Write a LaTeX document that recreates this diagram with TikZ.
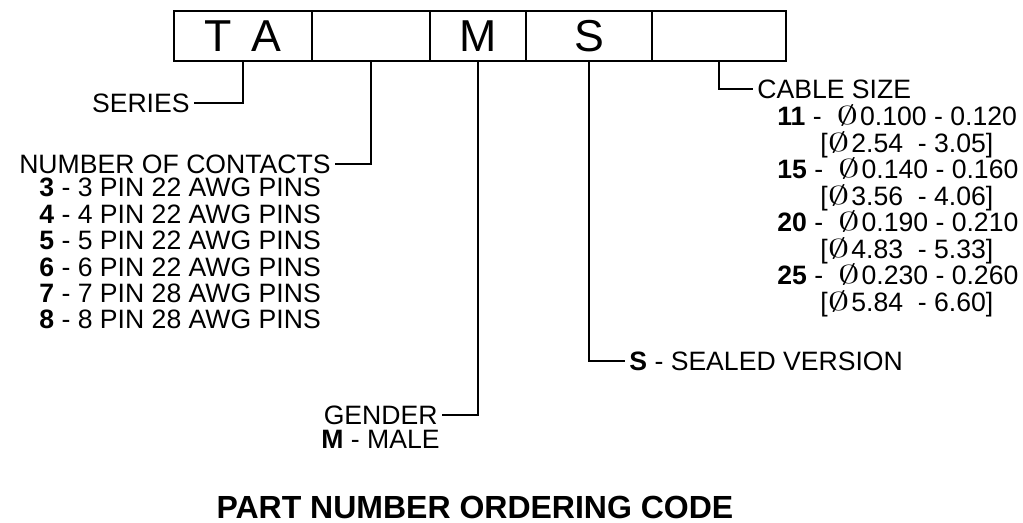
\documentclass[tikz,border=0pt]{standalone}
\usepackage{amsmath}
\usepackage{graphicx}
\usepackage{tikz}
\usepackage{fontspec}
\setmainfont{Liberation Sans}
\newcommand{\diasym}{\raisebox{0.5pt}{\scalebox{1.5}[0.9]{$\emptyset$}}\hspace{1pt}}

\begin{document}
\begin{tikzpicture}[x=0.5pt, y=-0.5pt,
    cell/.style={draw, line width=1pt, minimum height=25pt, inner sep=0pt, text depth=0pt,
        font=\fontsize{22.35pt}{26pt}\selectfont},
    lbl/.style={inner sep=0pt, text depth=0pt, font=\fontsize{13.3pt}{13.2pt}\selectfont},
    leader/.style={line width=0.65pt, shorten >=2pt}]
    \useasboundingbox (0,0) rectangle (1023,523);

    % code boxes
    \node[cell, minimum width=69pt] (ta) at (243,36) {T\hspace{4pt} A};
    \node[cell, minimum width=59pt] (nc) at (371,36) {};
    \node[cell, minimum width=48pt] (gd) at (478,36) {M};
    \node[cell, minimum width=63pt] (sv) at (589,36) {S};
    \node[cell, minimum width=67pt] (cs) at (719,36) {};

    % series
    \node[lbl, anchor=east] (series) at (190,103) {SERIES};
    \draw[leader] (ta.south) |- (series.east);

    % number of contacts
    \node[lbl, anchor=east] (ncnt) at (331,164) {NUMBER OF CONTACTS};
    \node[lbl, anchor=north west, align=left] (ncntlist) at (39,178) {%
        \textbf{3} - 3 PIN 22 AWG PINS\\
        \textbf{4} - 4 PIN 22 AWG PINS\\
        \textbf{5} - 5 PIN 22 AWG PINS\\
        \textbf{6} - 6 PIN 22 AWG PINS\\
        \textbf{7} - 7 PIN 28 AWG PINS\\
        \textbf{8} - 8 PIN 28 AWG PINS};
    \draw[leader] (nc.south) |- (ncnt.east);

    % gender
    \node[lbl, anchor=east] (gender) at (438,415) {GENDER};
    \node[lbl, anchor=west] (male) at (321,439) {\textbf{M} - MALE};
    \draw[leader] (gd.south) |- (gender.east);

    % sealed
    \node[lbl, anchor=west] (sealed) at (629,361) {\textbf{S} - SEALED VERSION};
    \draw[leader] (sv.south) |- (sealed.west);

    % cable size
    \node[lbl, anchor=west] (cable) at (757,89) {CABLE SIZE};
    \draw[leader] (cs.south) |- (cable.west);
    \node[lbl, anchor=base west] (c11) at (777,126) {\textbf{11} - \ \diasym0.100 - 0.120};
    \node[lbl, anchor=base west] (c11m) at (820,153) {[\diasym2.54 \ - 3.05]};
    \node[lbl, anchor=base west] (c15) at (777,179) {\textbf{15} - \ \diasym0.140 - 0.160};
    \node[lbl, anchor=base west] (c15m) at (820,206) {[\diasym3.56 \ - 4.06]};
    \node[lbl, anchor=base west] (c20) at (777,232) {\textbf{20} - \ \diasym0.190 - 0.210};
    \node[lbl, anchor=base west] (c20m) at (820,259) {[\diasym4.83 \ - 5.33]};
    \node[lbl, anchor=base west] (c25) at (777,285) {\textbf{25} - \ \diasym0.230 - 0.260};
    \node[lbl, anchor=base west] (c25m) at (820,312) {[\diasym5.84 \ - 6.60]};

    % title
    \node[inner sep=0pt, text depth=0pt, font=\bfseries\fontsize{16pt}{19pt}\selectfont]
        (title) at (475,507) {PART NUMBER ORDERING CODE};
\end{tikzpicture}
\end{document}
